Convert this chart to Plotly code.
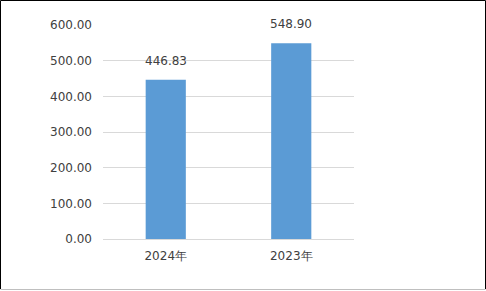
import plotly.graph_objects as go

categories = ["2024年", "2023年"]
values = [446.83, 548.90]
value_labels = ["446.83", "548.90"]
y_tick_vals = [0, 100, 200, 300, 400, 500, 600]
y_tick_text = ["0.00", "100.00", "200.00", "300.00", "400.00", "500.00", "600.00"]

W, H = 486, 291
ML, MR, MT, MB = 103, 132, 25, 52
PW, PH = W - ML - MR, H - MT - MB
FONT = "DejaVu Sans"
TXT = "#404040"

fig = go.Figure(go.Bar(
    x=categories, y=values,
    marker=dict(color="#5B9BD5", line=dict(width=0)),
    cliponaxis=False,
))

for c, v, t in zip(categories, values, value_labels):
    fig.add_annotation(x=c, y=v, text=t, showarrow=False, yanchor="bottom",
                       yshift=10, font=dict(family=FONT, size=12, color=TXT))

def px_x(p):
    return (p - ML) / PW

def px_y(p):
    return (H - MB - p) / PH

fig.update_layout(
    width=W, height=H,
    margin=dict(l=ML, r=MR, t=MT, b=MB, pad=0),
    paper_bgcolor="white", plot_bgcolor="white",
    bargap=0.68,
    showlegend=False,
    font=dict(family=FONT, size=12, color=TXT),
    xaxis=dict(showgrid=False, showline=True, linecolor="#D9D9D9", linewidth=1,
               ticks="", tickfont=dict(size=12, color=TXT), ticklabelstandoff=6),
    yaxis=dict(range=[0, 600], tickvals=y_tick_vals, ticktext=y_tick_text,
               showgrid=True, gridcolor="#D9D9D9", gridwidth=1, zeroline=False,
               showline=False, ticks="", tickfont=dict(size=12, color=TXT),
               ticklabelstandoff=10),
    shapes=[
        dict(type="line", xref="paper", yref="paper",
             x0=px_x(0.5), x1=px_x(0.5), y0=px_y(0.5), y1=px_y(289), line=dict(color="black", width=1)),
        dict(type="line", xref="paper", yref="paper",
             x0=px_x(0.5), x1=px_x(485.5), y0=px_y(0.5), y1=px_y(0.5), line=dict(color="black", width=1)),
        dict(type="line", xref="paper", yref="paper",
             x0=px_x(485.5), x1=px_x(485.5), y0=px_y(0.5), y1=px_y(289), line=dict(color="black", width=1)),
        dict(type="line", xref="paper", yref="paper",
             x0=px_x(0.5), x1=px_x(485.5), y0=px_y(289.5), y1=px_y(289.5), line=dict(color="#BFBFBF", width=1)),
    ],
)

fig.write_html("out.html")
